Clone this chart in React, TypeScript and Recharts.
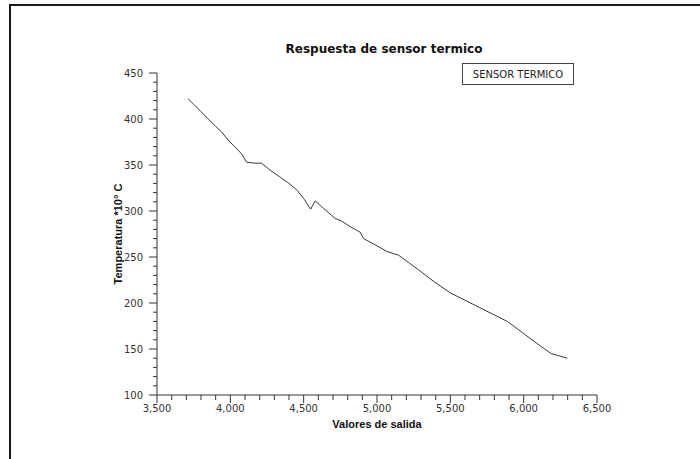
import { Line, LineChart, XAxis, YAxis } from "recharts";

const seriesName = "SENSOR TERMICO";

const sensorOutput = [
  3712, 3750, 3800, 3850, 3900, 3940, 3985, 4030, 4077, 4111, 4168, 4213, 4275, 4338, 4400, 4453, 4498, 4548,
  4578, 4634, 4714, 4760, 4817, 4885, 4908, 4990, 5068, 5147, 5215, 5284, 5390, 5500, 5600, 5700, 5800, 5888,
  5990, 6090, 6188, 6298,
];
const temperature = [
  422, 416, 408, 400, 392, 386, 377, 370, 362, 353, 352, 352, 344, 337, 330, 323, 314, 302, 311, 303, 292, 289,
  283, 277, 270, 263, 256, 252, 244, 236, 223, 211, 203, 195, 187, 180, 168, 156, 145, 140,
];

const xMajor = [3500, 4000, 4500, 5000, 5500, 6000, 6500];
const yMajor = [100, 150, 200, 250, 300, 350, 400, 450];

const X_STEP = 100;
const Y_STEP = 10;

const xTicks: number[] = [];
for (let v = 3500; v <= 6500; v += X_STEP) xTicks.push(v);
const yTicks: number[] = [];
for (let v = 100; v <= 450; v += Y_STEP) yTicks.push(v);

const chartData = sensorOutput.map((x, i) => ({ x, temp: temperature[i] }));

const FONT = "'DejaVu Sans', sans-serif";
const LABEL_FONT = "'Liberation Sans', Arial, sans-serif";
const INK = "#333";

const fmt = (v: number) => v.toLocaleString("en-US");

function XTick({ x, y, payload }: any) {
  const major = xMajor.includes(payload.value);
  return (
    <g>
      <line x1={x} x2={x} y1={y} y2={y + (major ? 8 : 5)} stroke={INK} />
      {major && (
        <text x={x} y={y + 17} textAnchor="middle" fontSize={10} fontFamily={FONT} fill="#333">
          {fmt(payload.value)}
        </text>
      )}
    </g>
  );
}

function YTick({ x, y, payload }: any) {
  const major = yMajor.includes(payload.value);
  return (
    <g>
      <line x1={x} x2={x - (major ? 8 : 4)} y1={y} y2={y} stroke={INK} />
      {major && (
        <text x={x - 14} y={y + 3.5} textAnchor="end" fontSize={10} fontFamily={FONT} fill="#333">
          {payload.value}
        </text>
      )}
    </g>
  );
}

export default function App() {
  return (
    <div style={{ position: "absolute", left: 0, top: 0, width: 700, height: 459, overflow: "hidden", background: "#fff" }}>
      <div
        style={{
          position: "absolute",
          left: 9,
          top: 4,
          width: 800,
          height: 600,
          border: "2px solid #1a1a1a",
          boxSizing: "border-box",
        }}
      />
      <div
        style={{
          position: "absolute",
          left: 234,
          width: 300,
          top: 42,
          textAlign: "center",
          fontFamily: FONT,
          fontWeight: "bold",
          fontSize: 12,
          color: "#111",
        }}
      >
        Respuesta de sensor termico
      </div>
      <div style={{ position: "absolute", left: 0, top: 0 }}>
        <LineChart width={700} height={459} data={chartData} margin={{ top: 73, right: 103, left: 0, bottom: 0 }}>
          <XAxis
            dataKey="x"
            type="number"
            domain={[3500, 6500]}
            ticks={xTicks}
            interval={0}
            height={64}
            tickSize={0}
            tickMargin={0}
            tickLine={false}
            axisLine={{ stroke: INK }}
            tick={<XTick />}
            label={{
              value: "Valores de salida",
              position: "insideBottom",
              offset: 31,
              style: { fontFamily: LABEL_FONT, fontWeight: "bold", fontSize: 11, fill: "#111" },
            }}
          />
          <YAxis
            type="number"
            domain={[100, 450]}
            ticks={yTicks}
            interval={0}
            width={157}
            tickSize={0}
            tickMargin={0}
            tickLine={false}
            axisLine={{ stroke: INK }}
            tick={<YTick />}
            label={{
              value: "Temperatura *10° C",
              angle: -90,
              position: "insideLeft",
              offset: 118,
              style: { fontFamily: LABEL_FONT, fontWeight: "bold", fontSize: 11, fill: "#111", textAnchor: "middle" },
            }}
          />
          <Line
            type="linear"
            dataKey="temp"
            name={seriesName}
            stroke="#3a3a3a"
            strokeWidth={1}
            dot={false}
            isAnimationActive={false}
          />
        </LineChart>
      </div>
      <div
        style={{
          position: "absolute",
          left: 462,
          top: 63,
          width: 110,
          height: 20,
          border: "1px solid #444",
          fontFamily: FONT,
          fontSize: 10,
          color: "#222",
          display: "flex",
          alignItems: "center",
          justifyContent: "center",
          background: "#fff",
        }}
      >
        {seriesName}
      </div>
    </div>
  );
}
